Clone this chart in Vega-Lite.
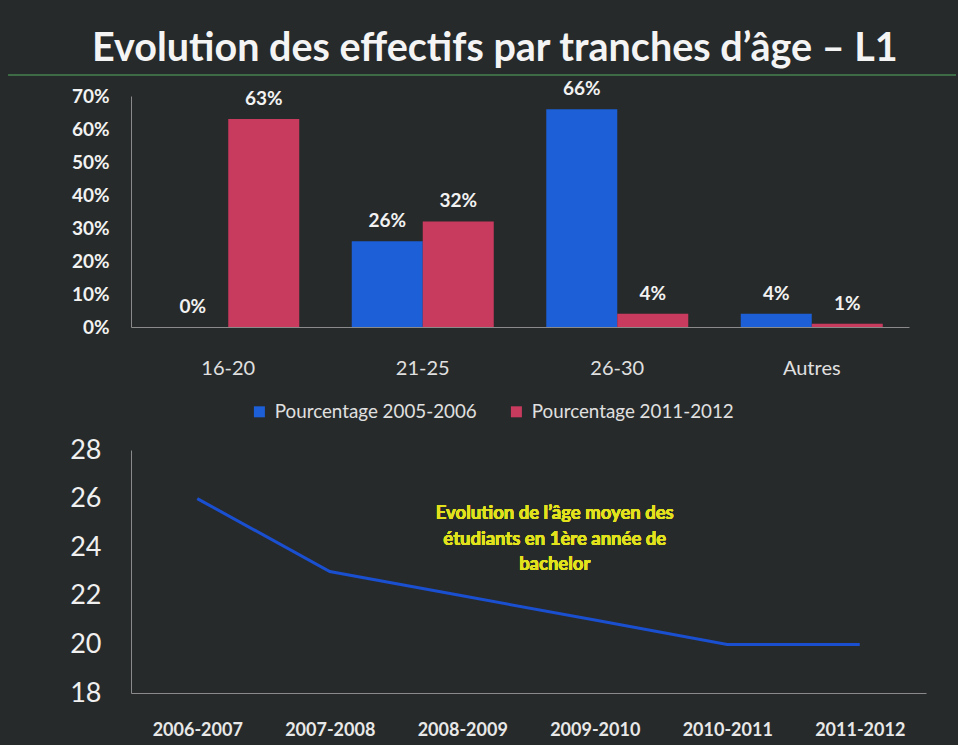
{
  "$schema": "https://vega.github.io/schema/vega-lite/v6.json",
  "background": "#272a2a",
  "padding": {"left": 6, "top": 28, "right": 2, "bottom": 6},
  "title": {
    "text": "Evolution des effectifs par tranches d’âge – L1",
    "font": "Lato",
    "fontSize": 39.5,
    "fontWeight": "bold",
    "color": "#f4f4f4",
    "anchor": "start",
    "frame": "group",
    "dx": -39,
    "offset": 5
  },
  "spacing": 4,
  "config": {
    "view": {"stroke": null},
    "axis": {"labelFont": "Lato", "grid": false, "ticks": false, "title": null, "domainColor": "#8a8a8a"},
    "legend": {"labelFont": "Lato"}
  },
  "datasets": {
    "bars": [
      {"tranche": "16-20", "serie": "Pourcentage 2005-2006", "valeur": 0},
      {"tranche": "16-20", "serie": "Pourcentage 2011-2012", "valeur": 0.63},
      {"tranche": "21-25", "serie": "Pourcentage 2005-2006", "valeur": 0.26},
      {"tranche": "21-25", "serie": "Pourcentage 2011-2012", "valeur": 0.32},
      {"tranche": "26-30", "serie": "Pourcentage 2005-2006", "valeur": 0.66},
      {"tranche": "26-30", "serie": "Pourcentage 2011-2012", "valeur": 0.04},
      {"tranche": "Autres", "serie": "Pourcentage 2005-2006", "valeur": 0.04},
      {"tranche": "Autres", "serie": "Pourcentage 2011-2012", "valeur": 0.01}
    ],
    "ages": [
      {"annee": "2006-2007", "age": 26},
      {"annee": "2007-2008", "age": 23},
      {"annee": "2008-2009", "age": 22},
      {"annee": "2009-2010", "age": 21},
      {"annee": "2010-2011", "age": 20},
      {"annee": "2011-2012", "age": 20}
    ]
  },
  "vconcat": [
    {
      "width": 825,
      "height": 1,
      "data": {"values": [{"ligne": 0}]},
      "mark": {"type": "rule", "color": "#3d6b45", "strokeWidth": 2},
      "encoding": {
        "x": {"datum": 0, "type": "quantitative", "scale": {"domain": [0.1297, 1]}, "axis": null},
        "x2": {"datum": 1},
        "y": {"field": "ligne", "type": "quantitative", "scale": {"domain": [0, 1]}, "axis": null}
      }
    },
    {
      "spacing": 58,
      "vconcat": [
        {
          "width": 778,
          "height": 231,
          "data": {"name": "bars"},
          "encoding": {
            "x": {
              "field": "tranche",
              "type": "nominal",
              "scale": {"paddingInner": 0.27, "paddingOuter": 0.135},
              "axis": {"labelAngle": 0, "labelPadding": 31, "labelFontSize": 20, "labelColor": "#e0e0e0"}
            },
            "xOffset": {"field": "serie", "type": "nominal"},
            "y": {
              "field": "valeur",
              "type": "quantitative",
              "scale": {"domain": [0, 0.7]},
              "axis": {
                "format": ".0%",
                "values": [0, 0.1, 0.2, 0.3, 0.4, 0.5, 0.6, 0.7],
                "labelPadding": 22,
                "labelFontSize": 19,
                "labelFontWeight": "bold",
                "labelColor": "#f2f2f2",
                "minExtent": 125,
                "maxExtent": 125
              }
            }
          },
          "layer": [
            {
              "mark": {"type": "bar"},
              "encoding": {
                "color": {
                  "field": "serie",
                  "type": "nominal",
                  "scale": {"range": ["#1c5fd6", "#c93a5f"]},
                  "legend": {
                    "title": null,
                    "orient": "none",
                    "direction": "horizontal",
                    "legendX": 119,
                    "legendY": 328,
                    "symbolType": "square",
                    "symbolSize": 121,
                    "symbolStrokeWidth": 0,
                    "labelFontSize": 18.8,
                    "labelLimit": 400,
                    "labelColor": "#e0e0e0",
                    "labelOffset": 6,
                    "columnPadding": 30
                  }
                }
              }
            },
            {
              "mark": {"type": "text", "dy": -14, "baseline": "alphabetic", "font": "Lato", "fontSize": 19, "fontWeight": "bold", "color": "#f2f2f2"},
              "encoding": {"text": {"field": "valeur", "type": "quantitative", "format": ".0%"}}
            }
          ]
        },
        {
          "width": 795,
          "height": 243,
          "data": {"name": "ages"},
          "layer": [
            {
              "mark": {"type": "line", "color": "#1a4fd0", "strokeWidth": 3},
              "encoding": {
                "x": {
                  "field": "annee",
                  "type": "ordinal",
                  "scale": {"type": "point", "padding": 0.5},
                  "axis": {"labelAngle": 0, "labelPadding": 28, "labelFontSize": 18, "labelFontWeight": "bold", "labelColor": "#e8e8e8"}
                },
                "y": {
                  "field": "age",
                  "type": "quantitative",
                  "scale": {"domain": [18, 28]},
                  "axis": {
                    "values": [18, 20, 22, 24, 26, 28],
                    "labelPadding": 30,
                    "labelFontSize": 27,
                    "labelColor": "#f0f0f0",
                    "minExtent": 125,
                    "maxExtent": 125
                  }
                }
              }
            },
            {
              "mark": {"type": "text", "font": "Lato", "fontSize": 18.5, "fontWeight": "bold", "color": "#e2e21c", "align": "center", "baseline": "middle", "lineHeight": 25.5, "dx": -40},
              "encoding": {
                "x": {"datum": "2009-2010"},
                "y": {"datum": 25.4},
                "text": {"value": ["Evolution de l’âge moyen des", "étudiants  en  1ère année de", "bachelor"]}
              }
            }
          ]
        }
      ]
    }
  ]
}
